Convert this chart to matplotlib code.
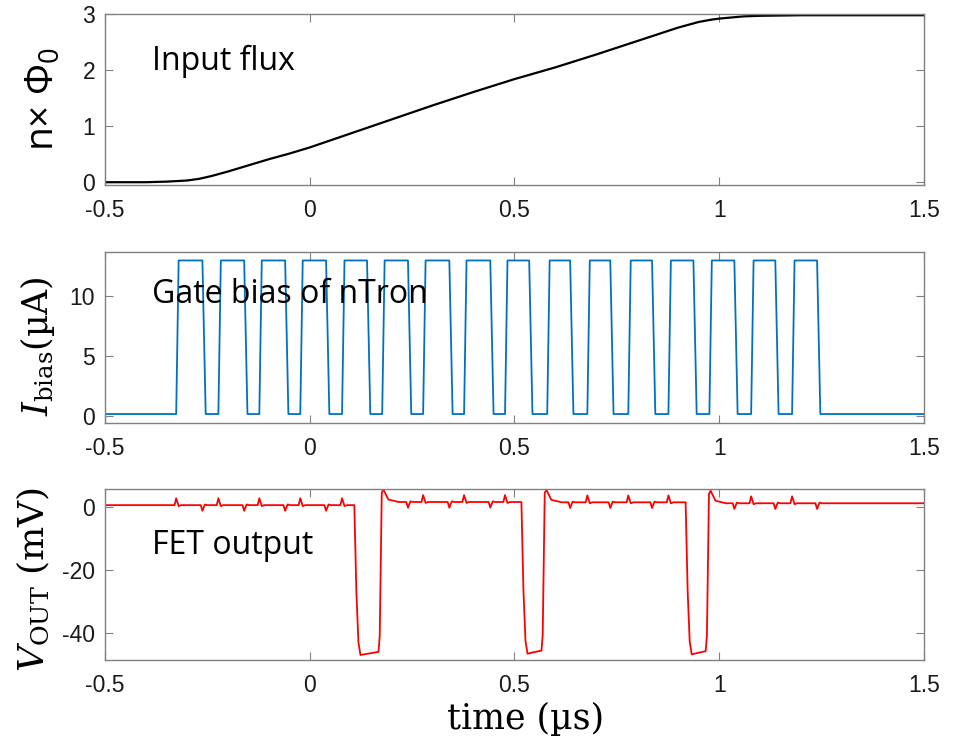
import matplotlib
matplotlib.use("Agg")
import matplotlib.pyplot as plt
import numpy as np

# ---------------- data ----------------
flux_t = [-0.5, -0.45, -0.4, -0.35, -0.3, -0.27, -0.24, -0.2, -0.15, -0.1, -0.05, 0.0,
          0.1, 0.2, 0.3, 0.4, 0.5, 0.6, 0.7, 0.8, 0.9, 0.95, 0.98, 1.0, 1.03, 1.06,
          1.1, 1.2, 1.3, 1.4, 1.5]
flux_n = [0.0, 0.0, 0.0, 0.01, 0.03, 0.06, 0.11, 0.19, 0.30, 0.41, 0.51, 0.62,
          0.87, 1.12, 1.37, 1.61, 1.84, 2.05, 2.28, 2.52, 2.76, 2.86, 2.90, 2.92,
          2.94, 2.96, 2.97, 2.98, 2.98, 2.98, 2.98]

gate_rise = [-0.326, -0.223, -0.123, -0.023, 0.079, 0.177, 0.277, 0.377,
             0.477, 0.580, 0.678, 0.778, 0.876, 0.976, 1.078, 1.178]
gate_fall = [-0.262, -0.160, -0.060, 0.040, 0.140, 0.240, 0.341, 0.441,
             0.536, 0.636, 0.734, 0.836, 0.937, 1.037, 1.137, 1.239]
gate_high = 13.0
gate_low = 0.15

fet_fall = [0.111, 0.519, 0.920]
fet_rise = [0.172, 0.570, 0.971]
fet_low = [-47.0, -46.6, -46.8]
fet_base = [0.7, 1.7, 1.6, 1.3]      # baseline level before/between/after pulses
fet_overshoot = 4.0
blip_up = 2.2
blip_down = -1.8

xticks = [-0.5, 0, 0.5, 1, 1.5]
xticklabels = ['-0.5', '0', '0.5', '1', '1.5']

# ---------------- build traces ----------------
g_t = [-0.5]
g_v = [gate_low]
for r, f in zip(gate_rise, gate_fall):
    g_t += [r, r + 0.006, f, f + 0.008]
    g_v += [gate_low, gate_high, gate_high, gate_low]
g_t.append(1.5)
g_v.append(gate_low)

def base_at(t):
    idx = 0
    for rr in fet_rise:
        if t > rr:
            idx += 1
    return fet_base[idx]

def in_pulse(t):
    for f, r in zip(fet_fall, fet_rise):
        if f - 0.01 <= t <= r + 0.025:
            return True
    return False

pts = [(-0.5, fet_base[0])]
for rt in gate_rise:
    if not in_pulse(rt) and -0.5 < rt < 1.5:
        b = base_at(rt)
        pts += [(rt - 0.004, b), (rt, b + blip_up), (rt + 0.006, b - 0.3), (rt + 0.012, b)]
for ft in gate_fall:
    if not in_pulse(ft) and -0.5 < ft < 1.5:
        b = base_at(ft)
        pts += [(ft - 0.004, b), (ft, b + blip_down), (ft + 0.006, b + 0.2), (ft + 0.012, b)]
for i, (f, r, lo) in enumerate(zip(fet_fall, fet_rise, fet_low)):
    b0 = fet_base[i]
    b1 = fet_base[i + 1]
    pts += [(f - 0.002, b0), (f + 0.003, lo + 20), (f + 0.008, lo + 4), (f + 0.013, lo),
            (0.5 * (f + r), lo + 0.4), (r - 0.004, lo + 1.0), (r - 0.001, lo + 6),
            (r + 0.004, b1 + fet_overshoot - 1.0),
            (r + 0.008, b1 + fet_overshoot), (r + 0.02, b1 + 0.8), (r + 0.045, b1)]
pts.append((1.5, fet_base[-1]))
pts.sort(key=lambda p: p[0])
f_t = [p[0] for p in pts]
f_v = [p[1] for p in pts]

# ---------------- style ----------------
plt.rcParams['mathtext.fontset'] = 'custom'
plt.rcParams['mathtext.rm'] = 'DejaVu Serif'
plt.rcParams['mathtext.it'] = 'DejaVu Serif:italic'
plt.rcParams['mathtext.sf'] = 'Open Sans'

spine_c = '#808080'
tick_font = dict(family='Liberation Sans', size=16.5)

fig = plt.figure(figsize=(9.54, 7.43), dpi=100)
L, W, H = 0.110, 0.8585, 0.230
ax1 = fig.add_axes([L, 0.751, W, H])
ax2 = fig.add_axes([L, 0.4307, W, H])
ax3 = fig.add_axes([L, 0.1117, W, H])

for ax in (ax1, ax2, ax3):
    ax.set_xlim(-0.5, 1.5)
    ax.set_xticks(xticks)
    for s in ax.spines.values():
        s.set_color(spine_c)
        s.set_linewidth(1.0)
    ax.tick_params(direction='in', top=True, right=True, length=6, width=0.8,
                   colors=spine_c, labelcolor='#1a1a1a')
    ax.tick_params(axis='x', pad=10)
    ax.tick_params(axis='y', pad=7)

ax1.plot(flux_t, flux_n, color='black', lw=1.6)
ax1.set_ylim(-0.05, 3.0)
ax1.set_yticks([0, 1, 2, 3])
ax1.set_yticklabels(['0', '1', '2', '3'], **tick_font)
ax1.set_xticklabels(xticklabels, **tick_font)
ax1.set_ylabel(r'n× Φ$_\mathsf{0}$', family='Open Sans', fontsize=28)
ax1.yaxis.set_label_coords(-0.053, 0.5)
ax1.text(-0.385, 0.673, 'Input flux', transform=ax1.get_xaxis_transform(),
         family='Open Sans', fontsize=23, va='baseline', ha='left')

ax2.plot(g_t, g_v, color='#0072BD', lw=1.3)
ax2.set_ylim(-0.6, 13.7)
ax2.set_yticks([0, 5, 10])
ax2.set_yticklabels(['0', '5', '10'], **tick_font)
ax2.set_xticklabels(xticklabels, **tick_font)
ax2.set_ylabel(r'$I_{\mathrm{bias}}$(µA)', family='DejaVu Serif', fontsize=25)
ax2.yaxis.set_label_coords(-0.058, 0.45)
ax2.text(-0.385, 0.70, 'Gate bias of nTron', transform=ax2.get_xaxis_transform(),
         family='Open Sans', fontsize=23, va='baseline', ha='left')

ax3.plot(f_t, f_v, color='#FF0000', lw=1.3)
ax3.set_ylim(-48.6, 5.8)
ax3.set_yticks([-40, -20, 0])
ax3.set_yticklabels(['-40', '-20', '0'], **tick_font)
ax3.set_xticklabels(xticklabels, **tick_font)
ax3.set_ylabel(r'$V_{\mathrm{OUT}}$ (mV)', family='DejaVu Serif', fontsize=26)
ax3.yaxis.set_label_coords(-0.066, 0.47)
ax3.set_xlabel('time (µs)', family='DejaVu Serif', fontsize=25)
ax3.xaxis.set_label_coords(0.514, -0.245)
ax3.text(-0.385, 0.618, 'FET output', transform=ax3.get_xaxis_transform(),
         family='Open Sans', fontsize=23, va='baseline', ha='left')

fig.savefig('out.png', dpi=100, facecolor='white')
